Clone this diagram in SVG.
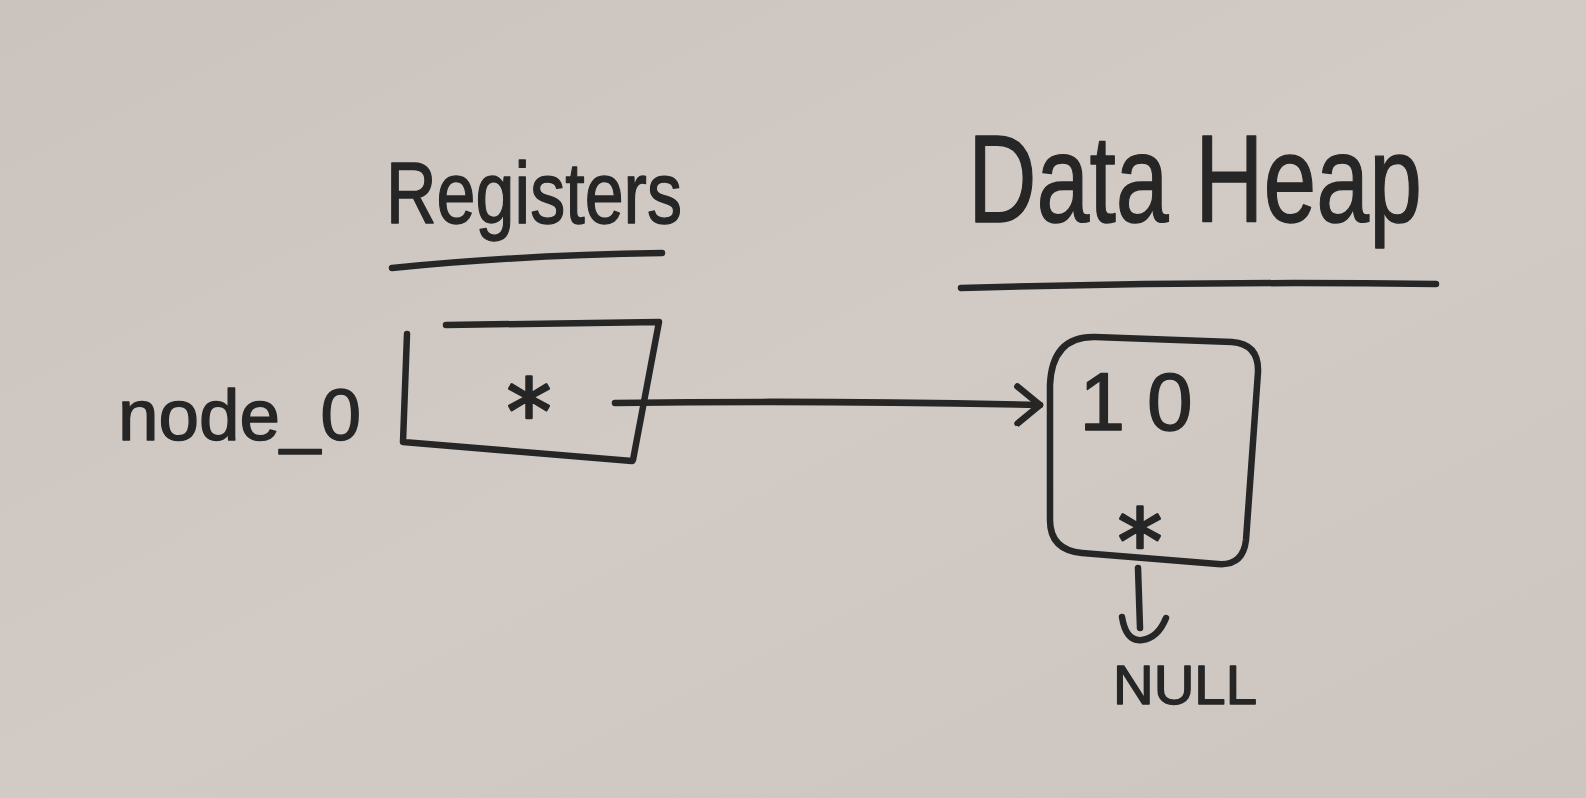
<svg xmlns="http://www.w3.org/2000/svg" width="1586" height="798" viewBox="0 0 1586 798">
  <defs>
    <linearGradient id="board" x1="0" y1="0" x2="1" y2="1">
      <stop offset="0" stop-color="#cbc4be"/>
      <stop offset="0.5" stop-color="#d2cbc5"/>
      <stop offset="1" stop-color="#cdc6c0"/>
    </linearGradient>
    <marker id="chev" viewBox="0 0 30 44" refX="26" refY="22" markerWidth="30" markerHeight="44" markerUnits="userSpaceOnUse" orient="auto">
      <path d="M3,4 L26,22 L4,41" fill="none" stroke="#262626" stroke-width="6.5" stroke-linecap="round" stroke-linejoin="round"/>
    </marker>
  </defs>
  <style>
    .ink { fill: none; stroke: #262626; stroke-width: 6.5; stroke-linecap: round; stroke-linejoin: round; }
    .hand { font-family: "Liberation Sans", "DejaVu Sans", sans-serif; fill: #262626; stroke: #262626; stroke-width: 1.4; stroke-linejoin: round; }
    .star { font-family: "DejaVu Sans", "Liberation Sans", sans-serif; fill: #262626; stroke: #262626; stroke-width: 2.5; stroke-linejoin: round; }
  </style>

  <rect x="0" y="0" width="1586" height="798" fill="url(#board)"/>

  <g id="title-registers">
    <text class="hand" x="386" y="223" font-size="88" textLength="296" lengthAdjust="spacingAndGlyphs">Registers</text>
    <path class="ink" d="M392,268 Q520,255 662,253"/>
  </g>

  <g id="title-data-heap">
    <text class="hand" x="968" y="222" font-size="124" textLength="454" lengthAdjust="spacingAndGlyphs">Data Heap</text>
    <path class="ink" d="M961,288 Q1200,281 1436,284"/>
  </g>

  <g id="node-register">
    <text class="hand" x="118" y="440" font-size="72" textLength="243" lengthAdjust="spacingAndGlyphs">node_0</text>
    <path class="ink" d="M407,334 L403,442 L632,461"/>
    <path class="ink" d="M446,325 L659,322 L633,460"/>
    <text class="star" x="529" y="444" font-size="90" text-anchor="middle">*</text>
  </g>

  <g id="node-heap">
    <path class="ink" d="M1095,337 L1232,342 Q1259,344 1258,372 L1246,540 Q1243,566 1218,564 L1082,553 Q1050,550 1050,520 L1050,385 Q1052,336 1095,337 Z"/>
    <text class="hand" x="1147" y="430" font-size="82" text-anchor="middle" letter-spacing="22">10</text>
    <text class="star" x="1140" y="574" font-size="90" text-anchor="middle">*</text>
  </g>

  <g id="node-null">
    <text class="hand" x="1113" y="704" font-size="56" textLength="144" lengthAdjust="spacingAndGlyphs">NULL</text>
  </g>

  <g id="connectors">
    <path class="ink" d="M615,403 Q820,400 1040,405" marker-end="url(#chev)"/>
    <path class="ink" d="M1138,568 L1140,628"/>
    <path class="ink" d="M1122,617 Q1126,642 1142,640 Q1158,638 1166,618"/>
  </g>
</svg>
